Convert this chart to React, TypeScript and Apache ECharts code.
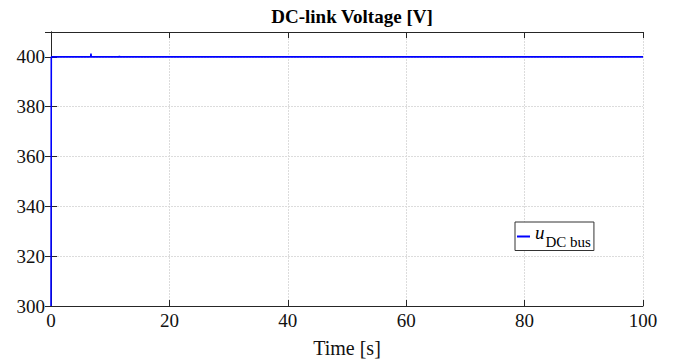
import React, { useEffect, useRef } from "react";
import * as echarts from "echarts";

const timeS = [0, 0.05, 6.7, 6.75, 6.8, 11.5, 11.55, 11.6, 100];
const voltage = [300, 400, 400, 401.3, 400, 400, 400.3, 400, 400];
const xTicks = [0, 20, 40, 60, 80, 100];
const yTicks = [300, 320, 340, 360, 380, 400];

const FONT = "Liberation Serif";

export default function App() {
  const ref = useRef<HTMLDivElement>(null);
  useEffect(() => {
    if (!ref.current) return;
    const chart = echarts.init(ref.current, undefined, { renderer: "svg" });
    const data = timeS.map((t, i) => [t, voltage[i]]);
    const gridLine = { show: true, lineStyle: { color: "#dcdcdc", type: [2, 1] as any, width: 1 } };
    const tick = { show: true, inside: true, length: 6, lineStyle: { color: "#262626", width: 1 } };
    const axLine = { show: true, lineStyle: { color: "#262626", width: 1 } };
    chart.setOption({
      animation: false,
      backgroundColor: "#ffffff",
      title: {
        text: "DC-link Voltage [V]",
        left: 347,
        top: 2,
        textAlign: "center",
        textStyle: { fontFamily: FONT, fontWeight: "bold", fontSize: 19, color: "#000" },
      },
      grid: { left: 51, right: 37, top: 32, bottom: 56, show: false },
      legend: {
        show: true,
        left: 515,
        top: 222,
        orient: "vertical",
        backgroundColor: "#fff",
        borderColor: "#333",
        borderWidth: 1,
        borderRadius: 0,
        padding: [1, 3, 1, 2],
        itemWidth: 13,
        itemHeight: 2,
        itemGap: 6,
        icon: "rect",
        formatter: () => "{i|u}{s|DC bus}",
        textStyle: {
          fontFamily: FONT,
          color: "#000",
          rich: {
            i: { fontFamily: FONT, fontStyle: "italic", fontSize: 19, color: "#000", lineHeight: 27, verticalAlign: "top" },
            s: { fontFamily: FONT, fontSize: 15, color: "#000", lineHeight: 27, padding: [11, 0, 0, 1] },
          },
        },
        data: [{ name: "uDC", itemStyle: { color: "#0000ff" } }],
      },
      xAxis: [
        {
          type: "value",
          min: 0,
          max: 100,
          interval: 20,
          position: "bottom",
          name: "Time [s]",
          nameLocation: "middle",
          nameGap: 32,
          nameTextStyle: { fontFamily: FONT, fontSize: 20, color: "#111" },
          axisLine: axLine,
          axisTick: tick,
          axisLabel: { fontFamily: FONT, fontSize: 19, color: "#111", margin: 5 },
          splitLine: gridLine,
        },
        {
          type: "value",
          min: 0,
          max: 100,
          interval: 20,
          position: "top",
          axisLine: axLine,
          axisTick: tick,
          axisLabel: { show: false },
          splitLine: { show: false },
        },
      ],
      yAxis: [
        {
          type: "value",
          min: 300,
          max: 410,
          interval: 20,
          position: "left",
          axisLine: axLine,
          axisTick: tick,
          axisLabel: { fontFamily: FONT, fontSize: 19, color: "#111", margin: 6, showMaxLabel: false },
          splitLine: gridLine,
        },
        {
          type: "value",
          min: 300,
          max: 410,
          interval: 20,
          position: "right",
          axisLine: axLine,
          axisTick: tick,
          axisLabel: { show: false },
          splitLine: { show: false },
        },
      ],
      series: [
        {
          name: "uDC",
          type: "line",
          data,
          symbol: "none",
          lineStyle: { color: "#0000ff", width: 1.6 },
          itemStyle: { color: "#0000ff" },
          z: 3,
        },
      ],
    });
    return () => chart.dispose();
  }, []);
  return <div ref={ref} style={{ width: 680, height: 363, position: "fixed", left: 0, top: 0 }} />;
}
